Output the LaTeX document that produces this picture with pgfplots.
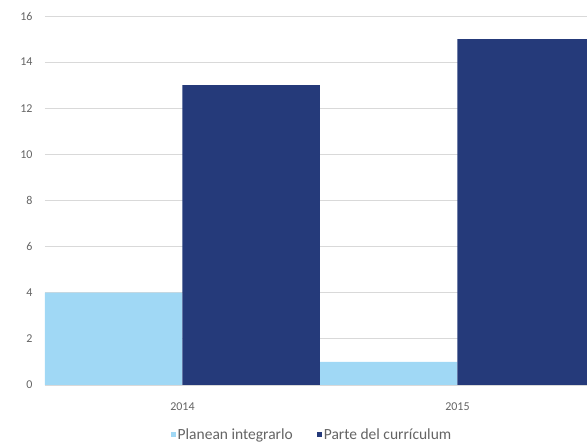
\documentclass[border=0pt]{standalone}
\usepackage{pgfplots}
\pgfplotsset{compat=1.18}
\usepackage{fontspec}
\setmainfont{Carlito}
\definecolor{lightb}{RGB}{160,216,245}
\definecolor{darkb}{RGB}{37,58,122}
\definecolor{txt}{RGB}{100,100,100}
\definecolor{gridc}{RGB}{217,217,217}
\begin{document}
\begin{tikzpicture}
\path[use as bounding box] (0,0) rectangle (587pt,447pt);
\begin{axis}[
  at={(45pt,62pt)}, anchor=south west,
  scale only axis, width=542pt, height=369pt,
  xmin=-0.5, xmax=1.471, ymin=0, ymax=16,
  ybar=0pt, bar width=137.5pt,
  axis line style={draw=none},
  major tick length=0pt,
  ytick={0,2,...,16},
  xtick={0,1}, xticklabels={2014,2015},
  ymajorgrids, grid style={gridc, line width=0.8pt},
  tick label style={font=\fontsize{12}{14}\selectfont, text=txt},
  /pgf/number format/assume math mode=true,
  yticklabel style={xshift=-9pt},
  xticklabel style={yshift=-14pt},
  legend style={at={(0.4926,-0.1355)}, anchor=center, draw=none, fill=none, legend columns=2,
    font=\fontsize{15.5}{17}\selectfont, text=txt,
    /tikz/every even column/.append style={column sep=22pt}},
  legend image code/.code={\fill[#1] (0pt,-2.5pt) rectangle (5pt,2.5pt);},
]
\addplot[fill=lightb, draw=none] coordinates {(0,4) (1,1)};
\addplot[fill=darkb, draw=none] coordinates {(0,13) (1,15)};
\legend{Planean integrarlo, Parte del currículum}
\end{axis}
\end{tikzpicture}
\end{document}
